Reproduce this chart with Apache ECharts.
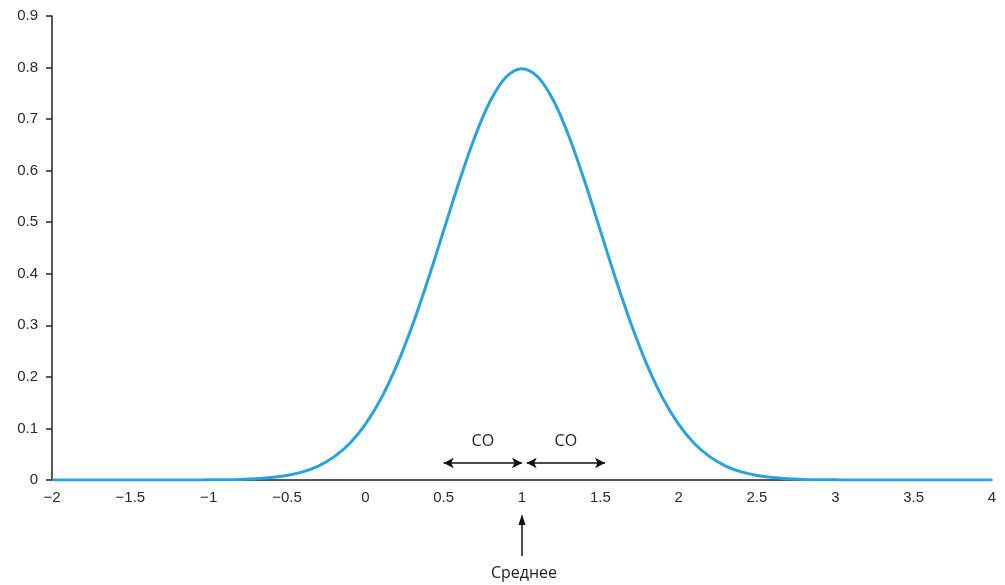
<!DOCTYPE html>
<html>
<head>
<meta charset="utf-8">
<script src="https://cdn.jsdelivr.net/npm/echarts@6/dist/echarts.min.js"></script>
<style>html,body{margin:0;padding:0;background:#fff;}#c{width:1005px;height:585px;}</style>
</head>
<body>
<div id="c"></div>
<script>
// x positions of the curve samples
const xValues = [-2.0,-1.9,-1.8,-1.7,-1.6,-1.5,-1.4,-1.3,-1.2,-1.1,-1.0,-0.9,-0.8,-0.7,-0.6,-0.5,-0.4,-0.3,-0.2,-0.1,
  0.0,0.1,0.2,0.3,0.4,0.5,0.6,0.7,0.8,0.9,1.0,1.1,1.2,1.3,1.4,1.5,1.6,1.7,1.8,1.9,2.0,
  2.1,2.2,2.3,2.4,2.5,2.6,2.7,2.8,2.9,3.0,3.1,3.2,3.3,3.4,3.5,3.6,3.7,3.8,3.9,4.0];
// density values
const densityValues = [0,0,0,0,0,0,0,0,0,0,0.0003,0.0006,0.0012,0.0025,0.0048,0.0089,0.0158,0.0271,0.0448,0.0709,
  0.1080,0.1579,0.2218,0.2995,0.3884,0.4839,0.5794,0.6664,0.7365,0.7821,0.7979,0.7821,0.7365,0.6664,0.5794,0.4839,0.3884,0.2995,0.2218,0.1579,0.1080,
  0.0709,0.0448,0.0271,0.0158,0.0089,0.0048,0.0025,0.0012,0.0006,0.0003,0,0,0,0,0,0,0,0,0,0];
// annotation content
const sdLabel = 'СО';
const meanLabel = 'Среднее';
const meanX = 1;
const sdLeft = [0.5, 1.0];
const sdRight = [1.03, 1.53];

const chart = echarts.init(document.getElementById('c'));
const fmt = v => String(v).replace('-', '\u2212');
chart.setOption({
  animation: false,
  grid: {left: 52, right: 13, top: 16, bottom: 105},
  xAxis: {
    type: 'value', min: -2, max: 4, interval: 0.5,
    axisLine: {show: true, onZero: false, lineStyle: {color: '#222', width: 1.5}},
    axisTick: {show: false},
    splitLine: {show: false},
    axisLabel: {color: '#2a2a2a', fontSize: 15, fontFamily: 'Liberation Sans', margin: 10, formatter: fmt}
  },
  yAxis: {
    type: 'value', min: 0, max: 0.9, interval: 0.1,
    axisLine: {show: true, onZero: false, lineStyle: {color: '#222', width: 1.5}},
    axisTick: {show: true, length: 6, lineStyle: {color: '#222', width: 1.5}},
    splitLine: {show: false},
    axisLabel: {color: '#2a2a2a', fontSize: 15, fontFamily: 'Liberation Sans', margin: 14}
  },
  series: [{
    type: 'line', showSymbol: false, smooth: 0.35, z: 3,
    data: xValues.map((x, i) => [x, densityValues[i]]),
    lineStyle: {color: '#2aa3dd', width: 3},
    markLine: {
      silent: true, symbol: ['arrow', 'arrow'], symbolSize: [8, 10],
      label: {show: false},
      lineStyle: {color: '#111', width: 1.5, type: 'solid'},
      data: [
        [{coord: [sdLeft[0], 0.033]}, {coord: [sdLeft[1], 0.033]}],
        [{coord: [sdRight[0], 0.033]}, {coord: [sdRight[1], 0.033]}]
      ]
    }
  }]
});

function drawAnno() {
  const p = (x, y) => chart.convertToPixel({gridIndex: 0}, [x, y]);
  const l1 = p((sdLeft[0] + sdLeft[1]) / 2, 0.075);
  const l2 = p((sdRight[0] + sdRight[1]) / 2, 0.075);
  const m = p(meanX, 0);
  chart.setOption({
    graphic: [
      {type: 'text', x: l1[0], y: l1[1], style: {text: sdLabel, fontSize: 16, fontFamily: 'Open Sans', fill: '#222', align: 'center', verticalAlign: 'middle'}},
      {type: 'text', x: l2[0], y: l2[1], style: {text: sdLabel, fontSize: 16, fontFamily: 'Open Sans', fill: '#222', align: 'center', verticalAlign: 'middle'}},
      {type: 'line', shape: {x1: m[0], y1: m[1] + 76, x2: m[0], y2: m[1] + 42}, style: {stroke: '#111', lineWidth: 1.5}},
      {type: 'polygon', shape: {points: [[m[0], m[1] + 34], [m[0] - 3.5, m[1] + 45], [m[0] + 3.5, m[1] + 45]]}, style: {fill: '#111'}},
      {type: 'text', x: m[0] + 2, y: m[1] + 93, style: {text: meanLabel, fontSize: 16, fontFamily: 'Open Sans', fill: '#222', align: 'center', verticalAlign: 'middle'}}
    ]
  });
}
drawAnno();
</script>
</body>
</html>
